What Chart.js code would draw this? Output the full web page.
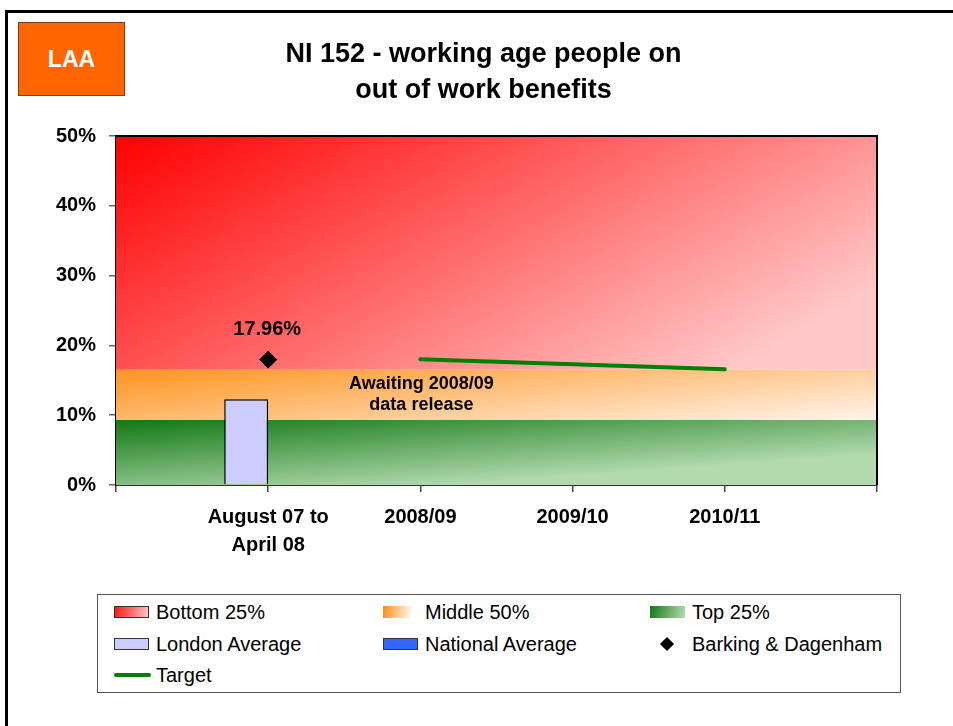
<!DOCTYPE html>
<html>
<head>
<meta charset="utf-8">
<script src="https://cdn.jsdelivr.net/npm/chart.js@4/dist/chart.umd.min.js"></script>
<style>
html,body{margin:0;padding:0;background:#fff;overflow:hidden;}
#wrap{position:relative;width:953px;height:726px;overflow:hidden;font-family:'Liberation Sans',Arial,sans-serif;}
#frameTop{position:absolute;left:5px;top:10px;width:948px;height:3px;background:#000;}
#frameLeft{position:absolute;left:5px;top:10px;width:3px;height:716px;background:#000;}
#c{position:absolute;left:0;top:0;}
#laa{position:absolute;left:18px;top:22px;width:105px;height:72px;background:#FF6600;border:1px solid #7A3F1A;color:#fff;font-weight:bold;font-size:23px;display:flex;align-items:center;justify-content:center;}
#legend{position:absolute;left:97px;top:594px;width:802px;height:97px;border:1.5px solid #555;background:#fff;}
.sw{position:absolute;box-sizing:border-box;}
.lt{position:absolute;font-size:20px;line-height:24px;color:#000;white-space:nowrap;}
</style>
</head>
<body>
<div id="wrap">
  <div id="frameTop"></div>
  <div id="frameLeft"></div>
  <canvas id="c" width="953" height="726"></canvas>
  <div id="laa">LAA</div>
  <div id="legend"></div>
</div>
<script>
// ---- data ----
const categories = ['', ['August 07 to', 'April 08'], '2008/09', '2009/10', '2010/11', ''];
const topQuartileUpper    = [9.3, 9.3, 9.3, 9.3, 9.3, 9.3];
const middleHalfUpper     = [16.5, 16.5, 16.5, 16.5, 16.5, 16.5];
const bottomQuartileUpper = [50, 50, 50, 50, 50, 50];
const londonAverage   = [null, 12.3, null, null, null, null];
const nationalAverage = [null, null, null, null, null, null];
const barkingDagenham = [null, 17.96, null, null, null, null];
const targetValues    = [null, null, 18.0, 17.3, 16.6, null];
const yTickValues = [0, 10, 20, 30, 40, 50];
const titleLines = ['NI 152 - working age people on', 'out of work benefits'];
const noteLines = ['Awaiting 2008/09', 'data release'];

const FONT = "'Liberation Sans', Arial, sans-serif";

function bandFill(lowerArr, upperArr, c0, c1, tx, ty) {
  return (ctx) => {
    const chart = ctx.chart;
    const a = chart.chartArea;
    const ys = chart.scales.y;
    if (!a || !ys) return c0;
    const top = ys.getPixelForValue(upperArr[0]);
    const bottom = ys.getPixelForValue(lowerArr ? lowerArr[0] : 0);
    const w = a.right - a.left, h = Math.max(1, bottom - top);
    const L2 = 1 / ((tx * tx) / (w * w) + (ty * ty) / (h * h));
    const dx = tx * L2 / w, dy = ty * L2 / h;
    const g = chart.ctx.createLinearGradient(a.left, top, a.left + dx, top + dy);
    g.addColorStop(0, c0);
    g.addColorStop(1, c1);
    return g;
  };
}

const bandCommon = {type: 'line', borderWidth: 0, borderColor: 'rgba(0,0,0,0)', pointRadius: 0, order: 5, yAxisID: 'y'};

const datasets = [
  Object.assign({}, bandCommon, {label: 'Top 25%', data: topQuartileUpper, fill: 'origin',
    backgroundColor: bandFill(null, topQuartileUpper, '#127814', '#B2DAAE', 0.62, 0.72)}),
  Object.assign({}, bandCommon, {label: 'Middle 50%', data: middleHalfUpper, fill: '-1',
    backgroundColor: bandFill(topQuartileUpper, middleHalfUpper, '#FF9420', '#FFF8F4', 0.6, 0.36)}),
  Object.assign({}, bandCommon, {label: 'Bottom 25%', data: bottomQuartileUpper, fill: '-1',
    backgroundColor: bandFill(middleHalfUpper, bottomQuartileUpper, '#FF0000', '#FFC8C8', 0.74, 0.4)}),
  {type: 'bar', label: 'London Average', data: londonAverage, backgroundColor: '#CCCCFF', borderColor: '#000', borderWidth: 1.5, order: 2, stack: 'london'},
  {type: 'bar', label: 'National Average', data: nationalAverage, backgroundColor: '#3366FF', borderColor: '#000', borderWidth: 1.5, order: 2, stack: 'national'},
  {type: 'line', label: 'Target', data: targetValues, borderColor: '#008000', borderWidth: 4, pointRadius: 0, fill: false, borderCapStyle: 'round', spanGaps: false, order: 1},
  {type: 'line', label: 'Barking & Dagenham', data: barkingDagenham, showLine: false, pointStyle: 'rectRot', pointRadius: 8.5, pointBackgroundColor: '#000', pointBorderColor: '#000', fill: false, order: 0}
];

const topRightBorder = {
  id: 'topRightBorder',
  afterDatasetsDraw(chart) {
    const a = chart.chartArea, ctx = chart.ctx;
    ctx.save();
    ctx.strokeStyle = '#000';
    ctx.lineWidth = 2;
    ctx.beginPath();
    ctx.moveTo(a.left, a.top);
    ctx.lineTo(a.right, a.top);
    ctx.lineTo(a.right, a.bottom);
    ctx.stroke();
    ctx.restore();
  }
};

const textLabels = {
  id: 'textLabels',
  afterDatasetsDraw(chart) {
    const ctx = chart.ctx, xs = chart.scales.x, ys = chart.scales.y;
    ctx.save();
    ctx.fillStyle = '#000';
    ctx.textAlign = 'center';
    ctx.textBaseline = 'middle';
    ctx.font = 'bold 20px ' + FONT;
    barkingDagenham.forEach((v, i) => {
      if (v === null) return;
      ctx.fillText(v.toFixed(2) + '%', xs.getPixelForValue(i) - 1, ys.getPixelForValue(v) - 30);
    });
    ctx.font = 'bold 18px ' + FONT;
    const idx = 2;
    const cy = (ys.getPixelForValue(topQuartileUpper[idx]) + ys.getPixelForValue(middleHalfUpper[idx])) / 2;
    const cx = xs.getPixelForValue(idx) + 1;
    noteLines.forEach((t, k) => ctx.fillText(t, cx, cy + (k - (noteLines.length - 1) / 2) * 21));
    ctx.restore();
  }
};

const chart = new Chart(document.getElementById('c'), {
  type: 'bar',
  data: {labels: categories, datasets: datasets},
  options: {
    responsive: false,
    animation: false,
    events: [],
    layout: {padding: {left: 14, right: 0, top: 0, bottom: 161}},
    datasets: {bar: {categoryPercentage: 0.578, barPercentage: 1.0}},
    plugins: {
      legend: {display: false},
      tooltip: {enabled: false},
      title: {
        display: true,
        text: titleLines,
        color: '#000',
        font: {family: FONT, size: 27, weight: 'bold', lineHeight: 36 / 27},
        padding: {top: 37, bottom: 27}
      }
    },
    scales: {
      x: {
        type: 'category',
        offset: false,
        z: 1,
        grid: {offset: false, drawOnChartArea: false, drawTicks: true, tickLength: 7, color: '#444', lineWidth: 1.5},
        border: {display: true, color: '#333', width: 2},
        ticks: {color: '#000', font: {family: FONT, size: 20, weight: 'bold', lineHeight: 1.4}, padding: 11, maxRotation: 0, minRotation: 0, autoSkip: false},
        afterFit(s) { s.height = 80; }
      },
      y: {
        type: 'linear',
        position: 'left',
        min: 0, max: 50,
        z: 1,
        afterBuildTicks(s) { s.ticks = yTickValues.map(v => ({value: v})); },
        grid: {drawOnChartArea: false, drawTicks: true, tickLength: 7, color: '#666', lineWidth: 1.5},
        border: {display: true, color: '#000', width: 2},
        ticks: {color: '#000', font: {family: FONT, size: 20, weight: 'bold'}, padding: 13, callback: v => v + '%'},
        afterFit(s) { s.width = 102; }
      },
      yR: {
        type: 'linear',
        position: 'right',
        display: true,
        grid: {display: false},
        border: {display: false},
        ticks: {display: false},
        afterFit(s) { s.width = 76; }
      }
    }
  },
  plugins: [topRightBorder, textLabels]
});

// ---- HTML legend built from the chart's datasets ----
const legendOrder = [
  ['Bottom 25%', 'Middle 50%', 'Top 25%'],
  ['London Average', 'National Average', 'Barking & Dagenham'],
  ['Target']
];
const swatchStyles = {
  'Bottom 25%': 'background:linear-gradient(100deg,#FF1414,#FFC6C6);border:1.5px solid #333;',
  'Middle 50%': 'background:linear-gradient(100deg,#FF8C14,#FFFFFF 85%);',
  'Top 25%': 'background:linear-gradient(100deg,#137A17,#B3DBB0);',
  'London Average': 'background:#CCCCFF;border:1.5px solid #333;',
  'National Average': 'background:#3366FF;border:1.5px solid #333;'
};
const legendEl = document.getElementById('legend');
const colX = [16, 285, 552];
const rowY = [17, 49, 80];
legendOrder.forEach((row, r) => {
  row.forEach((label, c) => {
    const ds = chart.data.datasets.find(d => d.label === label);
    if (!ds) return;
    const x = colX[c], y = rowY[r];
    const sw = document.createElement('div');
    sw.className = 'sw';
    if (label === 'Target') {
      sw.style.cssText = `left:${x}px;top:${y - 2}px;width:37px;height:4px;border-radius:2px;background:${ds.borderColor};`;
    } else if (label === 'Barking & Dagenham') {
      sw.style.cssText = `left:${x + 12}px;top:${y - 5}px;width:10px;height:10px;background:#000;transform:rotate(45deg);`;
    } else {
      sw.style.cssText = `left:${x}px;top:${y - 6}px;width:35px;height:12px;` + swatchStyles[label];
    }
    legendEl.appendChild(sw);
    const t = document.createElement('div');
    t.className = 'lt';
    t.style.left = (x + 42) + 'px';
    t.style.top = (y - 12) + 'px';
    t.textContent = ds.label;
    legendEl.appendChild(t);
  });
});
</script>
</body>
</html>
